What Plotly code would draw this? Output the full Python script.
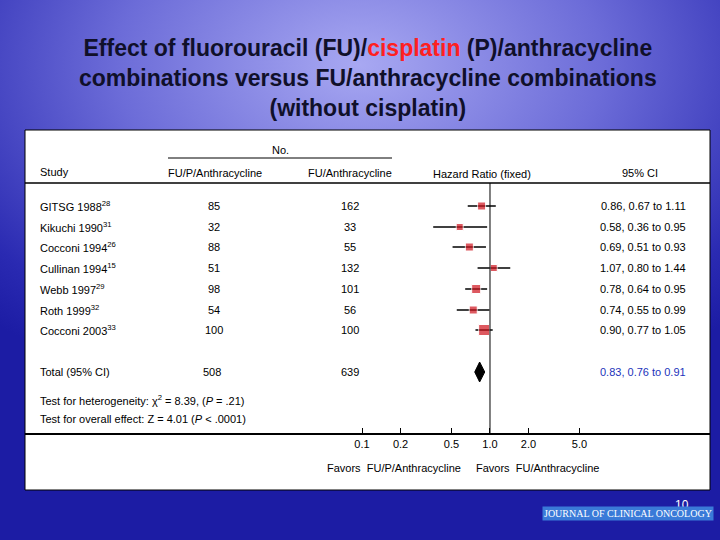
import plotly.graph_objects as go

studies = ["GITSG 1988<sup>28</sup>", "Kikuchi 1990<sup>31</sup>", "Cocconi 1994<sup>26</sup>",
           "Cullinan 1994<sup>15</sup>", "Webb 1997<sup>29</sup>", "Roth 1999<sup>32</sup>",
           "Cocconi 2003<sup>33</sup>"]
n_fup = [85, 32, 88, 51, 98, 54, 100]
n_fu = [162, 33, 55, 132, 101, 56, 100]
hr = [0.86, 0.58, 0.69, 1.07, 0.78, 0.74, 0.90]
lo = [0.67, 0.36, 0.51, 0.80, 0.64, 0.55, 0.77]
hi = [1.11, 0.95, 0.93, 1.44, 0.95, 0.99, 1.05]
weight = [8, 7, 8, 7, 9, 8, 11]
total = dict(n1=508, n2=639, hr=0.83, lo=0.76, hi=0.91)
ticks = [0.1, 0.2, 0.5, 1.0, 2.0, 5.0]
tick_labels = ["0.1", "0.2", "0.5", "1.0", "2.0", "5.0"]

row_y = [206, 227, 247, 268, 289, 310, 330]
total_y = 372
T, B = 135, 433
def py(p): return (B - p) / (B - T)
def px(p): return (p - 25) / 685

fig = go.Figure()
for i in range(len(hr)):
    fig.add_trace(go.Scatter(x=[lo[i], hi[i]], y=[row_y[i]] * 2, mode="lines",
                             line=dict(color="black", width=1.5), showlegend=False))
fig.add_trace(go.Scatter(x=hr, y=row_y, mode="markers", showlegend=False,
                         marker=dict(symbol="square", size=weight, color="#d0141e")))
fig.add_trace(go.Scatter(x=[total["lo"], total["hr"], total["hi"], total["hr"], total["lo"]],
                         y=[total_y - 0.01, total_y - 10, total_y, total_y + 10, total_y],
                         mode="lines", fill="toself", fillcolor="black",
                         line=dict(color="black", width=1), showlegend=False))

F = "Liberation Sans"
ann = []
def t(x, y, s, anchor="left", color="black", size=11):
    ann.append(dict(x=px(x), y=py(y), xref="paper", yref="paper", text=s, showarrow=False,
                    xanchor=anchor, yanchor="middle", font=dict(family=F, size=size, color=color)))

t(38, 172, "Study")
t(280, 150, "No.", "center")
t(215, 173, "FU/P/Anthracycline", "center")
t(350, 173, "FU/Anthracycline", "center")
t(482, 174, "Hazard Ratio (fixed)", "center")
t(640, 173, "95% CI", "center")
for i in range(len(hr)):
    t(38, row_y[i], studies[i])
    t(214, row_y[i], str(n_fup[i]), "center")
    t(350, row_y[i], str(n_fu[i]), "center")
    t(688, row_y[i], f"{hr[i]:.2f}, {lo[i]:.2f} to {hi[i]:.2f}", "right")
t(38, total_y, "Total (95% CI)")
t(212, total_y, str(total["n1"]), "center")
t(350, total_y, str(total["n2"]), "center")
t(688, total_y, f"{total['hr']:.2f}, {total['lo']:.2f} to {total['hi']:.2f}", "right", "#2233bb")
t(38, 400, "Test for heterogeneity: χ<sup>2</sup> = 8.39, (<i>P</i> = .21)")
t(38, 419, "Test for overall effect: Z = 4.01 (<i>P</i> < .0001)")
t(394, 468, "Favors  FU/P/Anthracycline", "center")
t(537, 468, "Favors  FU/Anthracycline", "center")

ann.append(dict(x=0.5, y=py(33), xref="paper", yref="paper", showarrow=False, yanchor="top",
                xanchor="center",
                text="<b>Effect of fluorouracil (FU)/<span style='color:#ff2020'>cisplatin</span> (P)/anthracycline<br>"
                     "combinations versus FU/anthracycline combinations<br>(without cisplatin)</b>",
                font=dict(family=F, size=23, color="#10102a"), align="center"))
ann.append(dict(x=px(682), y=py(514), xref="paper", yref="paper", showarrow=False, xanchor="center",
                text="10", font=dict(family=F, size=12, color="white")))
ann.append(dict(x=px(628), y=py(521), xref="paper", yref="paper", showarrow=False, xanchor="center",
                bgcolor="#3a7ad8", borderpad=1,
                text="JOURNAL OF CLINICAL ONCOLOGY", font=dict(family="Liberation Serif", size=10, color="white")))

shapes = [
    dict(type="rect", xref="paper", yref="paper", x0=px(25), x1=px(710), y0=py(490), y1=py(130),
         fillcolor="white", line=dict(width=1, color="black"), layer="below"),
    dict(type="line", xref="paper", yref="paper", x0=px(168), x1=px(392), y0=py(158), y1=py(158),
         line=dict(color="black", width=1)),
    dict(type="line", xref="paper", yref="paper", x0=px(25), x1=px(710), y0=py(183), y1=py(183),
         line=dict(color="black", width=1.5)),
    dict(type="line", xref="x", yref="paper", x0=1, x1=1, y0=py(183), y1=py(433),
         line=dict(color="black", width=1)),
]

fig.update_layout(
    width=720, height=540, margin=dict(l=25, r=10, t=T, b=540 - B),
    paper_bgcolor="rgba(0,0,0,0)", plot_bgcolor="rgba(0,0,0,0)",
    annotations=ann, shapes=shapes,
    xaxis=dict(type="log", range=[-3.633, 1.719], tickvals=ticks, ticktext=tick_labels,
               showgrid=False, zeroline=False, showline=True, linecolor="black", linewidth=2,
               ticks="inside", ticklen=5, tickcolor="black",
               tickfont=dict(family=F, size=11, color="black")),
    yaxis=dict(range=[B, T], visible=False, showgrid=False),
)
fig.write_html("out.html", config={"displayModeBar": False},
               post_script="document.body.style.margin='0';"
                           "document.body.style.height='540px';"
                           "document.body.style.background='radial-gradient(ellipse 75% 65% at 50% 12%, #a8a8f2 0%, #6c6cd8 45%, #2a2ab2 85%, #1c1ca4 100%)';")
